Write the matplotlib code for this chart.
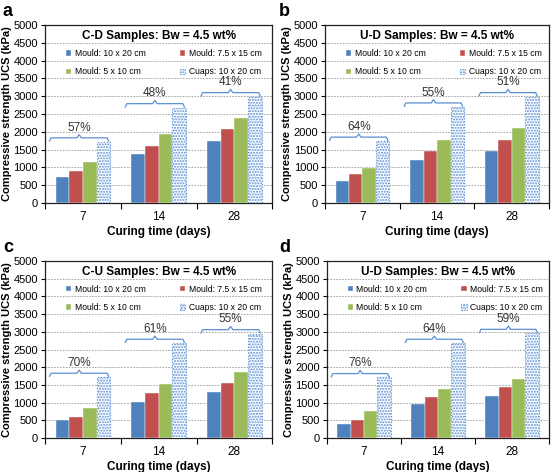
import matplotlib.pyplot as plt
import numpy as np

plt.rcParams['font.family'] = ['Liberation Sans', 'DejaVu Sans']
plt.rcParams['hatch.linewidth'] = 1.0

days = ["7", "14", "28"]
series_names = ["Mould: 10 x 20 cm", "Mould: 7.5 x 15 cm", "Mould: 5 x 10 cm", "Cuaps: 10 x 20 cm"]
panel_letters = ["a", "b", "c", "d"]
panel_titles = ["C-D Samples: Bw = 4.5 wt%", "U-D Samples: Bw = 4.5 wt%",
                "C-U Samples: Bw = 4.5 wt%", "U-D Samples: Bw = 4.5 wt%"]

# values per panel: [mould 10x20, mould 7.5x15, mould 5x10, cuaps] x days
ucs_a = [[730, 1380, 1740], [910, 1610, 2090], [1160, 1950, 2400], [1720, 2680, 2990]]
ucs_b = [[620, 1200, 1450], [800, 1450, 1770], [990, 1770, 2100], [1740, 2700, 2990]]
ucs_c = [[520, 1020, 1310], [590, 1260, 1560], [850, 1520, 1870], [1720, 2680, 2950]]
ucs_d = [[390, 950, 1180], [520, 1170, 1430], [770, 1380, 1670], [1710, 2680, 2960]]

pct_a = ["57%", "48%", "41%"]
pct_b = ["64%", "55%", "51%"]
pct_c = ["70%", "61%", "55%"]
pct_d = ["76%", "64%", "59%"]

all_ucs = [ucs_a, ucs_b, ucs_c, ucs_d]
all_pct = [pct_a, pct_b, pct_c, pct_d]

colors = ["#4F81BD", "#C0504D", "#9BBB59"]
cuaps_col = "#5B8FD6"

fig = plt.figure(figsize=(5.53, 4.72), dpi=100)
positions = [
    [0.0814, 0.570, 0.411, 0.377],
    [0.588, 0.570, 0.405, 0.377],
    [0.0814, 0.072, 0.411, 0.375],
    [0.591, 0.072, 0.402, 0.375],
]
letter_pos = [(0.005, 0.975), (0.505, 0.975), (0.005, 0.475), (0.505, 0.475)]

x = np.arange(len(days))
w = 0.18

for k in range(4):
    ax = fig.add_axes(positions[k])
    ucs = all_ucs[k]
    handles = []
    for i in range(3):
        b = ax.bar(x + (i - 1.5) * w, ucs[i], w, color=colors[i], edgecolor="white",
                   linewidth=0.3, zorder=3, label=series_names[i])
        handles.append(b)
    b = ax.bar(x + 1.5 * w, ucs[3], w, color="white", edgecolor=cuaps_col, hatch="......",
               linewidth=0.8, linestyle=":", zorder=3, label=series_names[3])
    handles.append(b)

    # brackets over each group
    for j in range(len(days)):
        yb = ucs[3][j] + 110
        x0 = x[j] - 0.44
        x1 = x[j] + 0.34
        xm = (x0 + x1) / 2
        bx = [x0, x0 + 0.02, xm - 0.03, xm, xm + 0.03, x1 - 0.02, x1]
        by = [yb - 90, yb, yb, yb + 90, yb, yb, yb - 90]
        ax.plot(bx, by, color=cuaps_col, lw=0.9, zorder=4)
        ax.text(xm, yb + 290, all_pct[k][j], ha="center", va="center", fontsize=8.5,
                color="#333333", zorder=4)

    ax.set_ylim(0, 5000)
    ax.set_yticks(np.arange(0, 5001, 500))
    ax.set_xlim(-0.5, 2.5)
    ax.set_xticks([-0.5, 0.5, 1.5, 2.5])
    ax.set_xticklabels([])
    ax.set_xticks(x, minor=True)
    ax.set_xticklabels(days, minor=True)
    ax.tick_params(axis="x", which="minor", length=0, pad=6, labelsize=8.5)
    ax.tick_params(axis="x", which="major", length=4, direction="out")
    ax.tick_params(axis="y", labelsize=8, length=3, pad=2)
    ax.grid(axis="y", linestyle=(0, (2, 1.5)), color="#9a9a9a", lw=0.6, zorder=0)
    for s in ax.spines.values():
        s.set_color("#222222")
        s.set_linewidth(0.9)

    ax.set_ylabel("Compressive strength UCS (kPa)", fontsize=8, fontweight="bold", labelpad=1)
    ax.set_xlabel("Curing time (days)", fontsize=8.5, fontweight="bold", labelpad=2)

    ax.text(0.5, 0.938, panel_titles[k], transform=ax.transAxes, ha="center", va="center",
            fontsize=8.5, fontweight="bold", zorder=5)
    order = [0, 2, 1, 3]
    ax.legend([handles[i] for i in order], [series_names[i] for i in order],
              loc="upper left", bbox_to_anchor=(0.07, 0.895), ncol=2, frameon=False,
              fontsize=6.2, handlelength=0.6, handleheight=0.6, handletextpad=0.4,
              columnspacing=4.0, labelspacing=1.1, borderpad=0.1)

    fig.text(letter_pos[k][0], letter_pos[k][1], panel_letters[k], fontsize=13,
             fontweight="bold", va="center", ha="left")

fig.savefig("out.png", dpi=100)
